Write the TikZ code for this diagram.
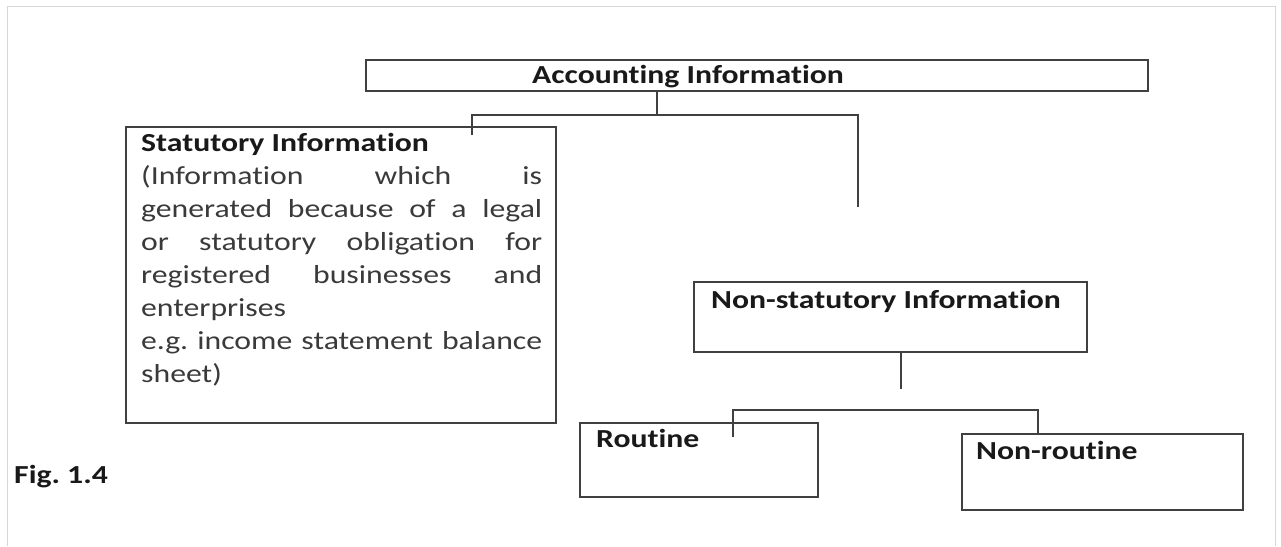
\documentclass[tikz,border=0pt]{standalone}
\usepackage{fontspec}
\setmainfont{Carlito}[FakeStretch=1.22, Ligatures=NoCommon]
\usepackage{tikz}
\definecolor{linegray}{HTML}{404040}
\definecolor{framegray}{HTML}{D6D6D6}
\definecolor{bodygray}{HTML}{3A3A3A}
\frenchspacing

\begin{document}
\begin{tikzpicture}[x=1pt,y=-1pt,
  box/.style={draw=linegray, line width=2.1pt, inner sep=0pt},
  head/.style={anchor=base west, inner sep=0pt, font=\fontsize{26}{31}\selectfont\bfseries, text=black!90},
  conn/.style={draw=linegray, line width=2pt}]
\useasboundingbox (0,0) rectangle (1281,546);
\draw[framegray, line width=1pt] (7,546) -- (7,6) -- (1275,6) -- (1275,546);
% boxes
\node[box, minimum width=782, minimum height=31] (acc) at (757,75.5) {};
\node[box, minimum width=430, minimum height=296] (stat) at (341,275) {};
\node[box, minimum width=393, minimum height=70] (nonstat) at (890.5,317) {};
\node[box, minimum width=238, minimum height=74] (rout) at (699,460) {};
\node[box, minimum width=281, minimum height=76] (nonrout) at (1102.5,472) {};
% labels
\node[head] (acctext) at (532,83) {Accounting Information};
\node[head] (stattext) at (141,151) {Statutory Information};
\node[anchor=north west, inner sep=0pt, align=left, text=bodygray,
  font=\fontsize{26}{33}\selectfont] (statbody) at (141,165)
  {\makebox[401pt][s]{(Information which is}\\
   \makebox[401pt][s]{generated because of a legal}\\
   \makebox[401pt][s]{or statutory obligation for}\\
   \makebox[401pt][s]{registered businesses and}\\
   enterprises\\
   \makebox[401pt][s]{e.g. income statement balance}\\
   sheet)};
\node[head] (nonstattext) at (711,308) {Non-statutory Information};
\node[head] (routtext) at (596,447) {Routine};
\node[head] (nonrouttext) at (976,459) {Non-routine};
\node[head] (fig) at (14,483) {Fig. 1.4};
% connectors
\coordinate (j1) at (657,115);
\coordinate (statin) at (472,135);
\coordinate (nsend) at (858,207);
\draw[conn] (acc.south -| j1) -- (j1);
\draw[conn] (statin) -- (statin |- j1) -- (j1 -| nsend) -- (nsend);
\coordinate (j2) at (901,410);
\coordinate (nsstub) at (901,389);
\coordinate (routin) at (733,437);
\coordinate (nonroutin) at (1038,0);
\draw[conn] (nonstat.south -| j2) -- (nsstub);
\draw[conn] (routin) -- (routin |- j2) -- (j2 -| nonroutin) -- (nonrout.north -| nonroutin);
\end{tikzpicture}
\end{document}
